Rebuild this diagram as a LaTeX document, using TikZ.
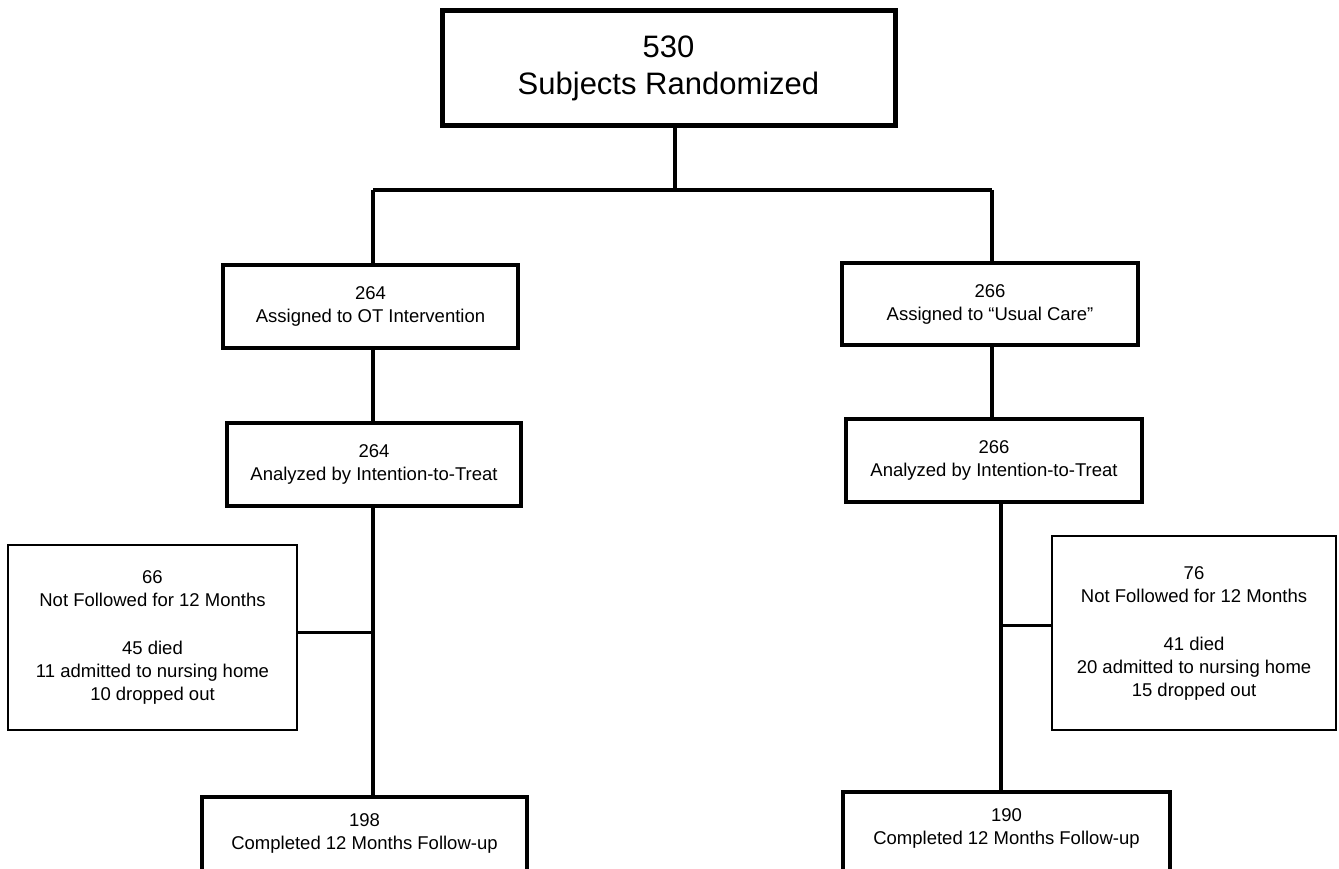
\documentclass[tikz,border=0pt]{standalone}
\usepackage{fontspec}
\setmainfont{Liberation Sans}
\begin{document}
\begin{tikzpicture}[x=1pt,y=-1pt,
  smalltext/.style={font=\fontsize{18.5}{23}\selectfont},
  topbox/.style={draw, line width=5pt, inner sep=0pt, align=center, font=\fontsize{31}{37}\selectfont},
  mainbox/.style={draw, line width=4pt, inner sep=0pt, align=center, smalltext},
  sidebox/.style={draw, line width=2pt, inner sep=0pt, align=center, smalltext},
  openbox/.style={draw, line width=4pt, inner sep=0pt, anchor=north, minimum height=120pt},
  opentext/.style={inner sep=0pt, align=center, anchor=north, smalltext},
  link/.style={line width=4.5pt},
  sidelink/.style={line width=3pt}]
\useasboundingbox (0,0) rectangle (1339,869);
\fill[white] (0,0) rectangle (1339,869);
\clip (0,0) rectangle (1339,869);

\node[topbox, minimum width=453pt, minimum height=115pt] (top) at (668.5,68) {530\\Subjects Randomized};

\node[mainbox, minimum width=295pt, minimum height=83pt] (a2) at (370.5,306.5) {264\\Assigned to OT Intervention};
\node[mainbox, minimum width=296pt, minimum height=82pt] (b2) at (990,304) {266\\Assigned to ``Usual Care''};

\node[mainbox, minimum width=294pt, minimum height=83pt] (a3) at (374,464.5) {264\\Analyzed by Intention-to-Treat};
\node[mainbox, minimum width=296pt, minimum height=83pt] (b3) at (994,460.5) {266\\Analyzed by Intention-to-Treat};

\node[sidebox, minimum width=289pt, minimum height=185pt] (as) at (152.5,637.5) {66\\Not Followed for 12 Months\\[25pt]45 died\\11 admitted to nursing home\\10 dropped out};
\node[sidebox, minimum width=284pt, minimum height=194pt] (bs) at (1194,633) {76\\Not Followed for 12 Months\\[25pt]41 died\\20 admitted to nursing home\\15 dropped out};

\node[openbox, minimum width=325pt] (a4) at (364.5,795) {};
\node[opentext] (a4t) at ([yshift=-18pt]a4.north) {198\\Completed 12 Months Follow-up};
\node[openbox, minimum width=327pt] (b4) at (1006.5,790) {};
\node[opentext] (b4t) at ([yshift=-18pt]b4.north) {190\\Completed 12 Months Follow-up};

\coordinate (tx) at (675,190);
\coordinate (ax) at (373,190);
\coordinate (bx) at (992,190);
\coordinate (bx2) at (1001,0);

\draw[link] (top.south -| tx) -- (tx);
\draw[link] (ax) -- (bx);
\draw[link] (ax) -- (a2.north -| ax);
\draw[link] (bx) -- (b2.north -| bx);
\draw[link] (a2.south -| ax) -- (a3.north -| ax);
\draw[link] (b2.south -| bx) -- (b3.north -| bx);
\draw[link] (a3.south -| ax) -- (a4.north -| ax);
\draw[link] (b3.south -| bx2) -- (b4.north -| bx2);

\coordinate (asj) at (373,632);
\coordinate (bsj) at (1001,625);
\draw[sidelink] (as.east |- asj) -- (asj);
\draw[sidelink] (bsj) -- (bs.west |- bsj);
\end{tikzpicture}
\end{document}
